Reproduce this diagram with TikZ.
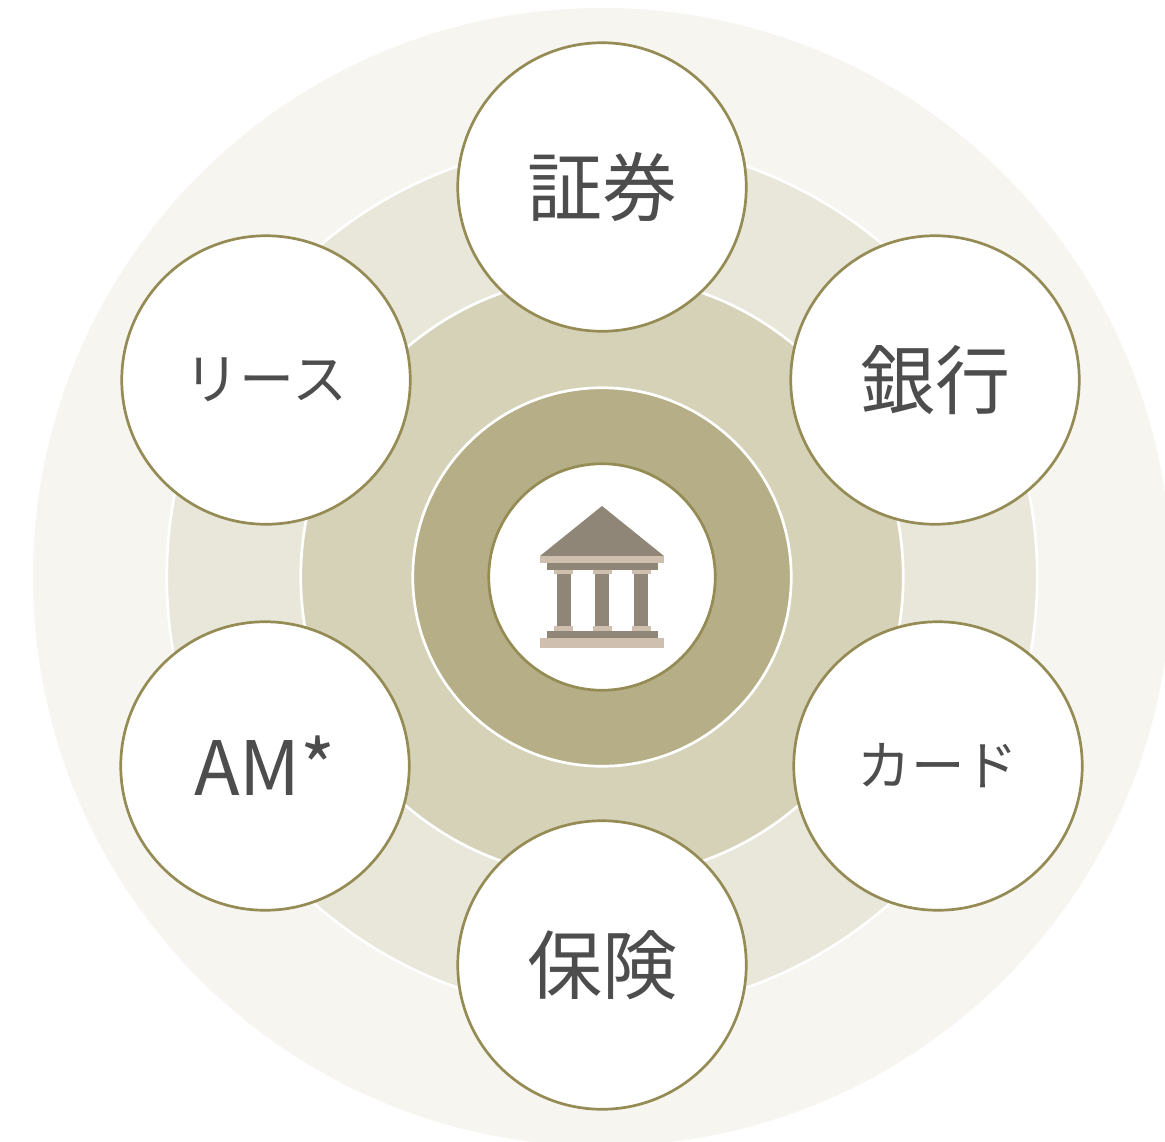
\documentclass[tikz,border=0pt]{standalone}
\usepackage{fontspec}
\setmainfont{Noto Sans CJK JP}
\definecolor{anneau1}{HTML}{F6F5F0}
\definecolor{anneau2}{HTML}{E8E7DA}
\definecolor{anneau3}{HTML}{D5D2B8}
\definecolor{anneau4}{HTML}{B5AE86}
\definecolor{trait}{HTML}{958B55}
\definecolor{texte}{HTML}{4D4D4D}
\definecolor{pierre}{HTML}{8F8677}
\definecolor{sable}{HTML}{CFBFAE}
\tikzstyle{anneau}=[draw=white, circle, inner sep = 0pt, line width = 2.7pt]
\tikzstyle{metier}=[draw=trait, fill=white, circle, inner sep = 0pt, minimum size = 288.5pt, line width = 2.7pt, text=texte]

\begin{document}
\begin{tikzpicture}[x=1pt, y=-1pt]

    \useasboundingbox (0,0) rectangle (1165,1141);
    \clip (0,0) rectangle (1165,1141);

    \node[circle, fill=anneau1, inner sep = 0pt, minimum size = 1138pt] (fond) at (602,577) {};
    \node[anneau, fill=anneau2, minimum size = 870.5pt] (large) at (602,577) {};
    \node[anneau, fill=anneau3, minimum size = 602.5pt] (moyen) at (602,577) {};
    \node[anneau, fill=anneau4, minimum size = 378.5pt] (etroit) at (602,577) {};
    \node[metier, minimum size = 226.5pt] (centre) at (602,577) {};

    \node[metier, font=\fontsize{75}{75}\selectfont] (shoken) at (602,187) {証券};
    \node[metier, font=\fontsize{75}{75}\selectfont] (ginko) at (935,380) {銀行};
    \node[metier, font=\fontsize{53.5}{53.5}\selectfont] (carte) at (938,766) {カード};
    \node[metier, font=\fontsize{75}{75}\selectfont] (hoken) at (602,965) {保険};
    \node[metier, font=\fontsize{75}{75}\selectfont] (am) at (265,766) {\raisebox{1pt}{AM*}};
    \node[metier, font=\fontsize{55}{55}\selectfont] (lease) at (266,380) {リース};

    % le petit temple
    \fill[pierre] (602,506) -- (664,556) -- (540,556) -- cycle;
    \fill[sable] (540,556) rectangle (664,563);
    \fill[pierre] (547,563) rectangle (658,569.5);
    \foreach \x in {563.5,602,641}{
        \fill[sable] (\x-9.5,569.5) rectangle (\x+9.5,574);
        \fill[pierre] (\x-7,574) rectangle (\x+7,626);
        \fill[sable] (\x-9.5,626) rectangle (\x+9.5,631);
    }
    \fill[pierre] (547,631) rectangle (658,637.5);
    \fill[sable] (540,637.5) rectangle (664,648);

\end{tikzpicture}
\end{document}
